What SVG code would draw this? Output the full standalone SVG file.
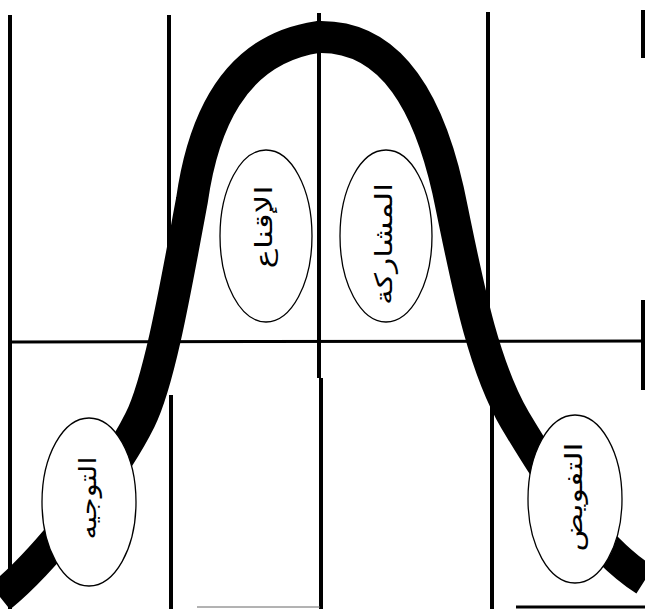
<svg xmlns="http://www.w3.org/2000/svg" width="645" height="609" viewBox="0 0 645 609">
<style>
.g{stroke:#000;stroke-width:4;fill:none}
.h{stroke:#000;stroke-width:3;fill:none}
.curve{stroke:#000;stroke-width:32;fill:none;stroke-linecap:butt}
.node ellipse{fill:#fff;stroke:#000;stroke-width:1.3}
.node text{font-family:"DejaVu Sans",sans-serif;font-size:24px;fill:#000;text-anchor:middle;dominant-baseline:central}
</style>
<rect width="645" height="609" fill="#fff"/>
<g id="grid">
<line class="g" x1="10" y1="15" x2="10" y2="609"/>
<line class="g" x1="169" y1="15" x2="169" y2="345"/>
<line class="g" x1="171" y1="395" x2="171" y2="609"/>
<line class="g" x1="319" y1="13" x2="319" y2="378"/>
<line class="g" x1="321" y1="378" x2="321" y2="609"/>
<line class="g" x1="488" y1="12" x2="488" y2="345"/>
<line class="g" x1="492" y1="395" x2="492" y2="609"/>
<line class="g" x1="643" y1="10" x2="643" y2="58"/>
<line class="g" x1="643" y1="300" x2="643" y2="390"/>
<line class="h" x1="12" y1="342" x2="645" y2="341"/>
<line stroke="#666" stroke-width="1" x1="197" y1="607" x2="320" y2="607"/>
<line class="h" x1="516" y1="607" x2="645" y2="607"/>
</g>
<g id="connectors">
<path class="curve" d="M 0 597 C 40 565, 110 480, 140 420 C 160 380, 177 280, 192 200 C 202 130, 230 50, 318 37 C 395 35, 430 110, 448 190 C 465 270, 480 360, 515 420 C 545 470, 590 545, 645 580"/>
</g>
<g id="n1" class="node">
<ellipse cx="89" cy="502" rx="47" ry="84"/>
<text transform="translate(88,498) rotate(-90)" textLength="83" lengthAdjust="spacingAndGlyphs">التوجيه</text>
</g>
<g id="n2" class="node">
<ellipse cx="266" cy="236" rx="46" ry="86"/>
<text transform="translate(264,227) rotate(-90)" textLength="83" lengthAdjust="spacingAndGlyphs">الإقناع</text>
</g>
<g id="n3" class="node">
<ellipse cx="386" cy="236" rx="46" ry="86"/>
<text transform="translate(384,244) rotate(-90)" textLength="122" lengthAdjust="spacingAndGlyphs">المشاركة</text>
</g>
<g id="n4" class="node">
<ellipse cx="575" cy="499" rx="47" ry="84"/>
<text transform="translate(574,497) rotate(-90)" textLength="109" lengthAdjust="spacingAndGlyphs">التفويض</text>
</g>
</svg>
